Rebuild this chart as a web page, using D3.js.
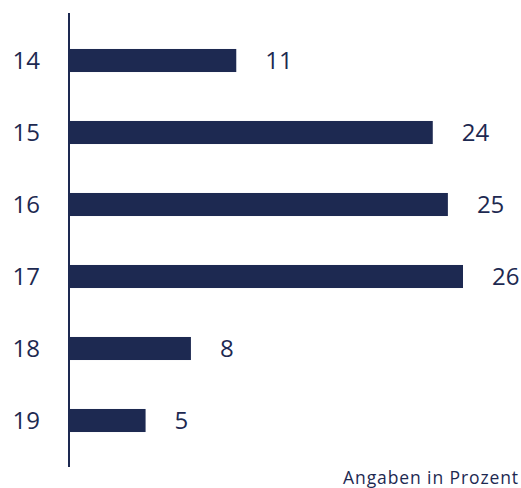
<!DOCTYPE html>
<html>
<head>
<meta charset="utf-8">
<script src="https://cdn.jsdelivr.net/npm/d3@7"></script>
<style>
  body { margin: 0; background: white; }
  text { font-family: "Open Sans", "Noto Sans", sans-serif; fill: #1d2951; }
</style>
</head>
<body>
<script>
// Data
var ages = ["14", "15", "16", "17", "18", "19"];
var shares = [11, 24, 25, 26, 8, 5];
var unitNote = "Angaben in Prozent";

var width = 521,
  height = 488;
var barColor = "#1d2951";

var svg = d3.select("body")
  .append("svg")
  .attr("width", width)
  .attr("height", height);

// Scales
var xScale = d3.scaleLinear()
  .domain([0, 26])
  .range([70, 463]);

var yScale = d3.scaleBand()
  .domain(ages)
  .range([24.5, 456.5])
  .paddingInner(0.68)
  .paddingOuter(0.34);

var rows = ages.map(function(a, i) {
  return { age: a, value: shares[i] };
});

// Bars
svg.selectAll(".bar")
  .data(rows)
  .enter()
  .append("rect")
  .attr("class", "bar")
  .attr("x", xScale(0))
  .attr("y", function(d) { return yScale(d.age); })
  .attr("width", function(d) { return xScale(d.value) - xScale(0); })
  .attr("height", yScale.bandwidth())
  .attr("fill", barColor);

// Axis line
svg.append("line")
  .attr("x1", 69)
  .attr("x2", 69)
  .attr("y1", 13)
  .attr("y2", 467)
  .attr("stroke", barColor)
  .attr("stroke-width", 2);

// Age labels
svg.selectAll(".age")
  .data(rows)
  .enter()
  .append("text")
  .attr("class", "age")
  .attr("x", 40)
  .attr("y", function(d) { return yScale(d.age) + yScale.bandwidth() / 2; })
  .attr("dy", "0.35em")
  .attr("text-anchor", "end")
  .style("font-size", "24px")
  .text(function(d) { return d.age; });

// Value labels
svg.selectAll(".val")
  .data(rows)
  .enter()
  .append("text")
  .attr("class", "val")
  .attr("x", function(d) { return xScale(d.value) + 29; })
  .attr("y", function(d) { return yScale(d.age) + yScale.bandwidth() / 2; })
  .attr("dy", "0.35em")
  .style("font-size", "24px")
  .text(function(d) { return d.value; });

// Note
svg.append("text")
  .attr("x", 519)
  .attr("y", 484)
  .attr("text-anchor", "end")
  .style("font-size", "17.5px")
  .style("letter-spacing", "0.9px")
  .text(unitNote);
</script>
</body>
</html>
